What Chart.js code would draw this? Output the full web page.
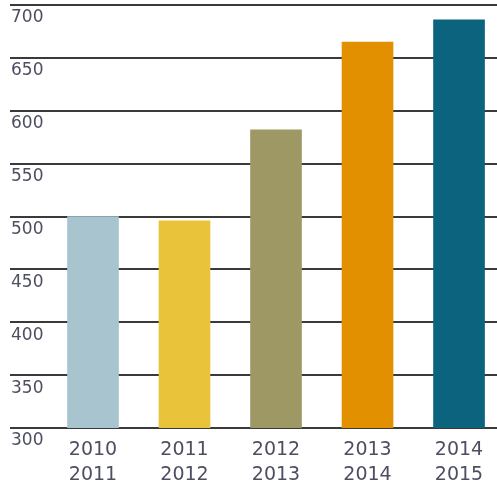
<!DOCTYPE html>
<html>
<head>
<meta charset="utf-8">
<script src="https://cdn.jsdelivr.net/npm/chart.js@4"></script>
<style>
html,body{margin:0;padding:0;background:#fff;}
canvas{display:block;}
</style>
</head>
<body>
<canvas id="c" width="497" height="485"></canvas>
<script>
const categories = [["2010","2011"],["2011","2012"],["2012","2013"],["2013","2014"],["2014","2015"]];
const values = [500, 496, 582, 665, 686];
const barColors = ["#a8c4cf","#e9c43b","#9e9964","#e39000","#0c637e"];
const yTicks = [300,350,400,450,500,550,600,650,700];

const textColor = "#4e4e62";

new Chart(document.getElementById("c"), {
  type: "bar",
  data: {
    datasets: [{
      data: values.map((v, i) => ({x: i, y: v})),
      backgroundColor: barColors,
      borderWidth: 0,
      barThickness: 51
    }]
  },
  options: {
    responsive: false,
    animation: false,
    layout: {padding: {left: 0, right: 0, top: 0, bottom: 0}},
    plugins: {legend: {display: false}, tooltip: {enabled: false}},
    scales: {
      x: {
        type: "linear",
        offset: false,
        min: -0.907,
        max: 4.415,
        grid: {display: false, drawTicks: false},
        border: {display: false},
        afterBuildTicks: (s) => { s.ticks = categories.map((c, i) => ({value: i})); },
        afterFit: (s) => { s.height = 57; },
        ticks: {
          autoSkip: false,
          maxRotation: 0,
          padding: 10,
          color: textColor,
          font: {family: "DejaVu Sans", size: 19, lineHeight: 1.3},
          callback: (v) => categories[v]
        }
      },
      y: {
        min: 300,
        max: 700,
        afterBuildTicks: (s) => { s.ticks = yTicks.map(v => ({value: v})); },
        afterFit: (s) => { s.width = 10; s.paddingTop = 5; },
        grid: {color: "#3a3a3a", lineWidth: 2, drawTicks: false},
        border: {display: false},
        ticks: {
          mirror: true,
          padding: 1,
          labelOffset: 13,
          color: textColor,
          font: {family: "DejaVu Sans", size: 17}
        }
      }
    }
  }
});
</script>
</body>
</html>
